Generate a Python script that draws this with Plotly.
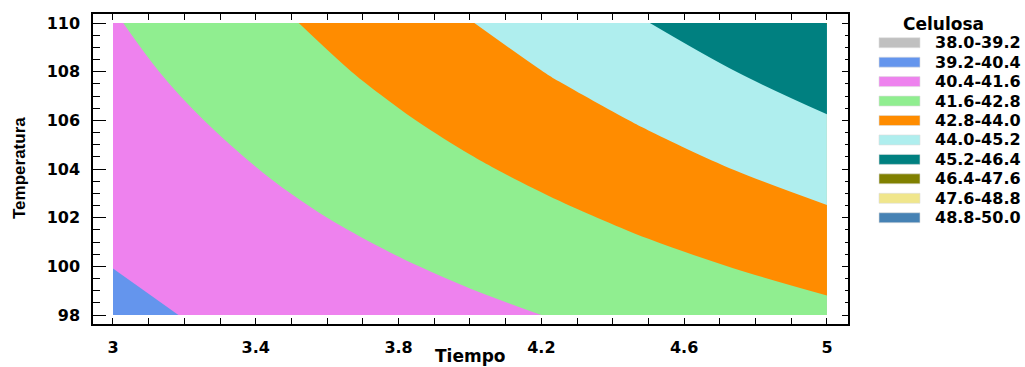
import plotly.graph_objects as go

# ---- data ----
tiempo = [3.0, 3.25, 3.5, 3.75, 4.0, 4.25, 4.5, 4.75, 5.0]
temperatura = [98, 100, 102, 104, 106, 108, 110]
celulosa = [
    [40.18, 40.48, 40.77, 41.07, 41.36, 41.66, 41.95, 42.25, 42.54],  # 98
    [40.41, 40.76, 41.11, 41.45, 41.80, 42.15, 42.50, 42.84, 43.19],  # 100
    [40.64, 41.04, 41.44, 41.84, 42.24, 42.63, 43.03, 43.43, 43.83],  # 102
    [40.86, 41.31, 41.77, 42.22, 42.67, 43.12, 43.58, 44.03, 44.48],  # 104
    [41.09, 41.59, 42.10, 42.60, 43.11, 43.61, 44.11, 44.62, 45.12],  # 106
    [41.31, 41.87, 42.43, 42.98, 43.54, 44.10, 44.66, 45.21, 45.77],  # 108
    [41.53, 42.14, 42.75, 43.36, 43.97, 44.58, 45.19, 45.80, 46.41],  # 110
]
level_start, level_end, level_step = 38.0, 50.0, 1.2
band_labels = ["38.0-39.2", "39.2-40.4", "40.4-41.6", "41.6-42.8", "42.8-44.0",
               "44.0-45.2", "45.2-46.4", "46.4-47.6", "47.6-48.8", "48.8-50.0"]
band_colors = ["#C0C0C0", "#6495ED", "#EE82EE", "#90EE90", "#FF8C00",
               "#AFEEEE", "#008080", "#808000", "#F0E68C", "#4682B4"]
x_ticks = [3, 3.4, 3.8, 4.2, 4.6, 5]
x_ticktext = ["3", "3.4", "3.8", "4.2", "4.6", "5"]
y_ticks = [98, 100, 102, 104, 106, 108, 110]

# ---- discrete colorscale matching plotly's contour fill colour mapping ----
n_lv = len(band_colors) + 1
scale = [[0.0, band_colors[0]]]
for k, c in enumerate(band_colors):
    scale.append([(k + 0.5) / n_lv, c])
    scale.append([(k + 1.5) / n_lv, c])
scale.append([1.0, band_colors[-1]])

W, H = 1025, 367
L, R, T, B = 93, 848, 14, 324
def px(x):
    return (x - L) / (R - L)
def py(y):
    return (B - y) / (B - T)

fig = go.Figure()
fig.add_trace(go.Contour(
    x=tiempo, y=temperatura, z=celulosa,
    colorscale=scale, showscale=False,
    contours=dict(start=level_start, end=level_end, size=level_step, coloring="fill"),
    line=dict(width=0),
    hoverinfo="skip",
))
# invisible trace to carry the right-hand y axis
fig.add_trace(go.Scatter(x=[tiempo[0]], y=[temperatura[0]], yaxis="y2",
                         mode="markers", marker=dict(opacity=0), showlegend=False,
                         hoverinfo="skip"))

tickfont = dict(family="DejaVu Sans", size=16, color="black", weight="bold")

fig.update_layout(
    width=W, height=H,
    margin=dict(l=L, r=W - R, t=T, b=H - B, autoexpand=False),
    paper_bgcolor="white", plot_bgcolor="white",
    showlegend=False,
    template="none",
    xaxis=dict(range=[2.944, 5.059], tickmode="array", tickvals=x_ticks, ticktext=x_ticktext,
               ticks="inside", ticklen=6, tickwidth=1.2, tickcolor="black",
               minor=dict(tickmode="linear", tick0=3, dtick=0.1, ticks="inside", ticklen=3,
                          tickwidth=1, tickcolor="black", showgrid=False),
               showline=True, linecolor="black", linewidth=1.5, mirror="allticks",
               showgrid=False, zeroline=False, tickfont=tickfont, ticklabelstandoff=8,
               automargin=False),
    yaxis=dict(range=[97.63, 110.37], tickmode="array", tickvals=y_ticks,
               ticks="inside", ticklen=13, tickwidth=1.2, tickcolor="black",
               minor=dict(tickmode="linear", tick0=98, dtick=0.5, ticks="inside", ticklen=7,
                          tickwidth=1, tickcolor="black", showgrid=False),
               showline=True, linecolor="black", linewidth=1.5, mirror=True,
               showgrid=False, zeroline=False, tickfont=tickfont, ticklabelstandoff=8,
               automargin=False),
    yaxis2=dict(range=[97.63, 110.37], overlaying="y", side="right", tickmode="array",
                tickvals=y_ticks, showticklabels=False,
                ticks="inside", ticklen=6, tickwidth=1.2, tickcolor="black",
                minor=dict(tickmode="linear", tick0=98, dtick=0.5, ticks="inside", ticklen=3,
                           tickwidth=1, tickcolor="black", showgrid=False),
                showline=False, showgrid=False, zeroline=False, automargin=False),
)

annotations = [
    dict(text="<b>Tiempo</b>", x=0.5, y=py(367), xref="paper", yref="paper",
         xanchor="center", yanchor="bottom", showarrow=False, borderpad=0,
         font=dict(family="DejaVu Sans", size=17, color="black")),
    dict(text="<b>Temperatura</b>", x=px(19), y=py(168), xref="paper", yref="paper",
         xanchor="center", yanchor="middle", textangle=-90, showarrow=False,
         font=dict(family="Liberation Sans", size=17, color="black")),
    dict(text="<b>Celulosa</b>", x=px(943), y=py(24), xref="paper", yref="paper",
         xanchor="center", yanchor="middle", showarrow=False,
         font=dict(family="DejaVu Sans", size=17, color="black")),
]
shapes = []
row0, row_step = 42.7, 19.45
for i, (lab, col) in enumerate(zip(band_labels, band_colors)):
    yc = row0 + i * row_step
    shapes.append(dict(type="rect", xref="paper", yref="paper",
                       x0=px(879), x1=px(920), y0=py(yc + 5), y1=py(yc - 5),
                       fillcolor=col, line=dict(width=0.6, color="#DDDDDD")))
    annotations.append(dict(text="<b>" + lab + "</b>", x=px(934), y=py(yc),
                            xref="paper", yref="paper", xanchor="left", yanchor="middle",
                            showarrow=False, borderpad=0,
                            font=dict(family="DejaVu Sans", size=16, color="black")))
fig.update_layout(annotations=annotations, shapes=shapes)

fig.write_html("out.html", config={"displayModeBar": False},
               post_script="document.body.style.margin='0';document.body.style.overflow='hidden';")
